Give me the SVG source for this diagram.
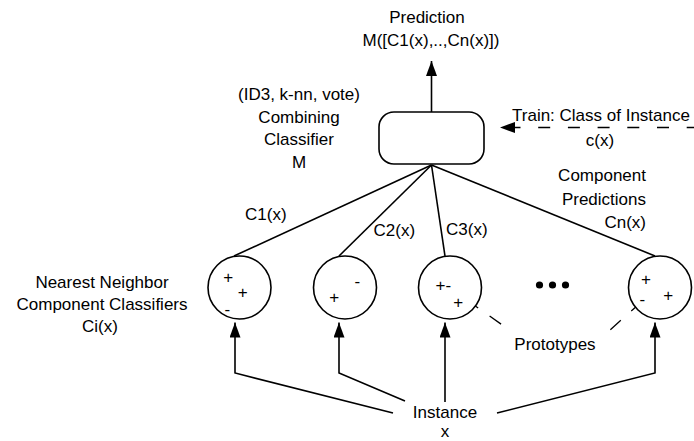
<svg xmlns="http://www.w3.org/2000/svg" width="694" height="441" viewBox="0 0 694 441">
  <style>
    text { font-family: "Liberation Sans", Arial, Helvetica, sans-serif; font-size: 17px; fill: #000; }
    .mid { text-anchor: middle; }
    .end { text-anchor: end; }
    .wire { fill: none; stroke: #000; stroke-width: 1.6; }
    .dash { fill: none; stroke: #000; stroke-width: 1.6; stroke-dasharray: 12 17.7; stroke-dashoffset: 4.7; }
    .hint { fill: none; stroke: #000; stroke-width: 1.3; stroke-dasharray: 14 14; }
    .node { fill: #fff; stroke: #000; stroke-width: 1.6; }
  </style>
  <defs>
    <marker id="head" viewBox="0 0 15 11" refX="15" refY="5.5" markerWidth="15" markerHeight="11" markerUnits="userSpaceOnUse" orient="auto">
      <path d="M0,0 L15,5.5 L0,11 Z" fill="#000"/>
    </marker>
  </defs>

  <!-- connectors -->
  <g id="connectors">
    <!-- combiner output -->
    <line class="wire" x1="431.5" y1="112" x2="431.5" y2="61" marker-end="url(#head)"/>
    <!-- training signal -->
    <line class="dash" x1="694" y1="127.5" x2="500" y2="127.5" marker-end="url(#head)"/>
    <!-- component predictions into combiner -->
    <line class="wire" x1="431.5" y1="165" x2="234" y2="256"/>
    <line class="wire" x1="431.5" y1="165" x2="339" y2="256"/>
    <line class="wire" x1="431.5" y1="165" x2="445" y2="256"/>
    <line class="wire" x1="431.5" y1="165" x2="655" y2="256"/>
    <!-- instance fed to each component -->
    <polyline class="wire" points="393,413 235,373 235,322.5" marker-end="url(#head)"/>
    <polyline class="wire" points="405,401 339,373 339,322.5" marker-end="url(#head)"/>
    <line class="wire" x1="445" y1="402" x2="445" y2="322.5" marker-end="url(#head)"/>
    <polyline class="wire" points="497,413 655,373 655,322.5" marker-end="url(#head)"/>
    <!-- prototype pointers -->
    <line class="hint" x1="466.7" y1="300" x2="502.3" y2="325"/>
    <line class="hint" x1="641.7" y1="301.7" x2="610" y2="330"/>
  </g>

  <!-- combining classifier -->
  <g id="combiner">
    <rect class="node" x="379" y="112" width="105" height="52" rx="15" ry="15"/>
  </g>

  <!-- component classifiers -->
  <g id="comp1">
    <circle class="node" cx="239.5" cy="287.5" r="31.5"/>
    <text class="mid" x="228.3" y="283.3">+</text>
    <text class="mid" x="242.7" y="298.3">+</text>
    <text class="mid" x="227.3" y="314.6">-</text>
  </g>
  <g id="comp2">
    <circle class="node" cx="345" cy="287.5" r="31.5"/>
    <text class="mid" x="357.3" y="287.3">-</text>
    <text class="mid" x="334.3" y="302.7">+</text>
  </g>
  <g id="comp3">
    <circle class="node" cx="450" cy="287.5" r="31.5"/>
    <text class="mid" x="443.3" y="291">+-</text>
    <text class="mid" x="458.3" y="307.7">+</text>
  </g>
  <g id="ellipsis">
    <circle cx="539.5" cy="285" r="3.6" fill="#000"/>
    <circle cx="552.5" cy="285" r="3.6" fill="#000"/>
    <circle cx="565.5" cy="285" r="3.6" fill="#000"/>
  </g>
  <g id="compN">
    <circle class="node" cx="660" cy="287.5" r="31.5"/>
    <text class="mid" x="646" y="285.3">+</text>
    <text class="mid" x="668.3" y="301">+</text>
    <text class="mid" x="642.3" y="305.3">-</text>
  </g>

  <!-- labels -->
  <g id="prediction-label">
    <text class="mid" x="427" y="23">Prediction</text>
    <text class="mid" x="431" y="46">M([C1(x),..,Cn(x)])</text>
  </g>
  <g id="combiner-label">
    <text class="mid" x="299" y="100">(ID3, k-nn, vote)</text>
    <text class="mid" x="299" y="122.7">Combining</text>
    <text class="mid" x="299" y="145.4">Classifier</text>
    <text class="mid" x="299" y="168">M</text>
  </g>
  <g id="train-label">
    <text class="mid" x="601" y="121">Train: Class of Instance</text>
    <text class="mid" x="600" y="146">c(x)</text>
  </g>
  <g id="prediction-labels">
    <text x="245" y="220">C1(x)</text>
    <text x="373.5" y="236">C2(x)</text>
    <text x="446" y="235">C3(x)</text>
    <text class="end" x="646" y="181">Component</text>
    <text class="end" x="646" y="204.5">Predictions</text>
    <text class="end" x="646" y="228">Cn(x)</text>
  </g>
  <g id="components-label">
    <text class="mid" x="102" y="288">Nearest Neighbor</text>
    <text class="mid" x="102" y="310">Component Classifiers</text>
    <text class="mid" x="100" y="332">Ci(x)</text>
  </g>
  <g id="prototypes-label">
    <text class="mid" x="555" y="350">Prototypes</text>
  </g>
  <g id="instance-label">
    <text class="mid" x="445" y="418">Instance</text>
    <text class="mid" x="445" y="436.5">x</text>
  </g>
</svg>
